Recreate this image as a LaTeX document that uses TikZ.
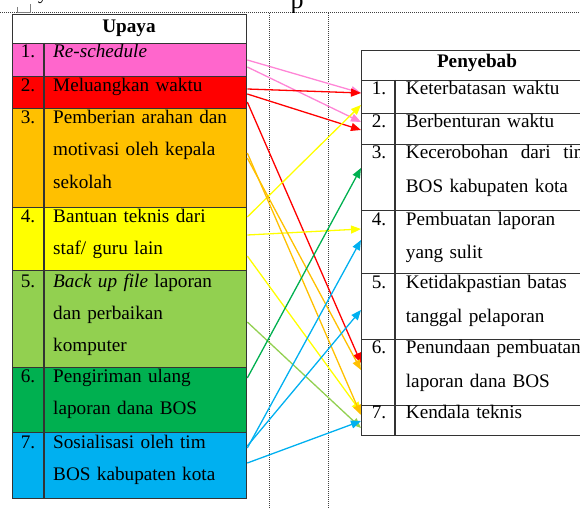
\documentclass[tikz,border=0pt]{standalone}
\usepackage{fontspec}
\setmainfont{Liberation Serif}
\usetikzlibrary{arrows.meta}

\definecolor{pinkU}{HTML}{FF66CC}
\definecolor{redU}{HTML}{FF0000}
\definecolor{orangeU}{HTML}{FFC000}
\definecolor{yellowU}{HTML}{FFFF00}
\definecolor{limeU}{HTML}{92D050}
\definecolor{greenU}{HTML}{00B050}
\definecolor{blueU}{HTML}{00B0F0}
\definecolor{lineC}{HTML}{333333}

\tikzset{
  cell/.style={draw=lineC, line width=1.3pt, anchor=north west, inner sep=0pt},
  txt/.style={anchor=base west, inner sep=0pt, text width=#1, align=left,
    font=\fontsize{19.2}{32}\selectfont},
  num/.style={anchor=base, inner sep=0pt, font=\fontsize{19.2}{32}\selectfont},
  head/.style={anchor=base, inner sep=0pt, font=\fontsize{19.2}{32}\selectfont\bfseries},
  link/.style={line width=1.3pt, -{Triangle[length=10pt,width=8pt]}},
  guide/.style={black!75, line width=1pt, densely dotted},
}

\begin{document}
\begin{tikzpicture}[x=1pt, y=-1pt]
    \useasboundingbox (0,0) rectangle (580,508);
    \clip (0,0) rectangle (580,508);

    % page guides
    \draw[guide] (0,13) -- (580,13);
    \draw[guide] (269,13) -- (269,508);
    \draw[guide] (328,13) -- (328,508);
    \draw[gray, line width=0.6pt] (17,7) -- (17,12) -- (30,12) -- (30,4);
    \begin{scope}
        \clip (0,0) rectangle (580,12.5);
        \node[num] (gy) at (43,0) {y};
        \node[num, font=\fontsize{26}{32}\selectfont] (gp) at (297,9) {p};
    \end{scope}

    % Upaya
    \node[cell, minimum width=234, minimum height=29] (hU) at (12,14) {};
    \node[cell, fill=pinkU, minimum width=234, minimum height=33] (u1) at (12,43) {};
    \node[cell, fill=redU, minimum width=234, minimum height=32] (u2) at (12,76) {};
    \node[cell, fill=orangeU, minimum width=234, minimum height=99] (u3) at (12,108) {};
    \node[cell, fill=yellowU, minimum width=234, minimum height=63] (u4) at (12,207) {};
    \node[cell, fill=limeU, minimum width=234, minimum height=97] (u5) at (12,270) {};
    \node[cell, fill=greenU, minimum width=234, minimum height=65] (u6) at (12,367) {};
    \node[cell, fill=blueU, minimum width=234, minimum height=66] (u7) at (12,432) {};
    \draw[lineC, line width=1.3pt] ([xshift=32pt]u1.north west) -- ([xshift=32pt]u7.south west);

    \node[head] (tU) at (129,33) {Upaya};
    \node[num] (nu1) at (28,58) {1.};
    \node[txt=190] (tu1) at (53,58) {\textit{Re-schedule}};
    \node[num] (nu2) at (28,92) {2.};
    \node[txt=190] (tu2) at (53,92) {Meluangkan waktu};
    \node[num] (nu3) at (28,124) {3.};
    \node[txt=190] (tu3) at (53,124) {Pemberian arahan dan\\motivasi oleh kepala\\sekolah};
    \node[num] (nu4) at (28,222) {4.};
    \node[txt=190] (tu4) at (53,222) {Bantuan teknis dari\\staf/ guru lain};
    \node[num] (nu5) at (28,287) {5.};
    \node[txt=190] (tu5) at (53,287) {\textit{Back up file} laporan\\dan perbaikan\\komputer};
    \node[num] (nu6) at (28,382) {6.};
    \node[txt=190] (tu6) at (53,382) {Pengiriman ulang\\laporan dana BOS};
    \node[num] (nu7) at (28,448) {7.};
    \node[txt=190] (tu7) at (53,448) {Sosialisasi oleh tim\\BOS kabupaten kota};

    % Penyebab
    \node[cell, minimum width=233, minimum height=30] (hP) at (361,50) {};
    \node[cell, minimum width=233, minimum height=33] (p1) at (361,80) {};
    \node[cell, minimum width=233, minimum height=31] (p2) at (361,113) {};
    \node[cell, minimum width=233, minimum height=66] (p3) at (361,144) {};
    \node[cell, minimum width=233, minimum height=63] (p4) at (361,210) {};
    \node[cell, minimum width=233, minimum height=66] (p5) at (361,273) {};
    \node[cell, minimum width=233, minimum height=66] (p6) at (361,339) {};
    \node[cell, minimum width=233, minimum height=30] (p7) at (361,405) {};
    \draw[lineC, line width=1.3pt] ([xshift=34pt]p1.north west) -- ([xshift=34pt]p7.south west);

    \node[head] (tP) at (477,68) {Penyebab};
    \node[num] (np1) at (379,95) {1.};
    \node[txt=183, font=\fontsize{19.2}{34}\selectfont] (tp1) at (405.7,95) {Keterbatasan waktu};
    \node[num] (np2) at (379,128) {2.};
    \node[txt=183, font=\fontsize{19.2}{34}\selectfont] (tp2) at (405.7,128) {Berbenturan waktu};
    \node[num] (np3) at (379,158) {3.};
    \node[txt=183, font=\fontsize{19.2}{34}\selectfont] (tp3) at (405.7,158) {Kecerobohan\hfill dari\hfill tim\\BOS kabupaten kota};
    \node[num] (np4) at (379,225) {4.};
    \node[txt=183, font=\fontsize{19.2}{33}\selectfont] (tp4) at (405.7,225) {Pembuatan laporan\\yang sulit};
    \node[num] (np5) at (379,288) {5.};
    \node[txt=183, font=\fontsize{19.2}{34}\selectfont] (tp5) at (405.7,288) {Ketidakpastian batas\\tanggal pelaporan};
    \node[num] (np6) at (379,353) {6.};
    \node[txt=183, font=\fontsize{19.2}{34}\selectfont] (tp6) at (405.7,353) {Penundaan pembuatan\\laporan dana BOS};
    \node[num] (np7) at (379,418) {7.};
    \node[txt=183, font=\fontsize{19.2}{34}\selectfont] (tp7) at (405.7,418) {Kendala teknis};

    % Upaya -> Penyebab
    \draw[link, pinkU!80] ([yshift=-17pt]u1.north east) -- ([yshift=-13pt]p1.north west);
    \draw[link, pinkU!80] ([yshift=-24pt]u1.north east) -- ([yshift=-9pt]p2.north west);
    \draw[link, redU] ([yshift=-13pt]u2.north east) -- ([yshift=-13pt]p1.north west);
    \draw[link, redU] ([yshift=-18pt]u2.north east) -- ([yshift=-17pt]p2.north west);
    \draw[link, redU] ([yshift=-26pt]u2.north east) -- ([yshift=-24pt]p6.north west);
    \draw[link, yellowU] ([yshift=-10pt]u4.north east) -- ([yshift=-25pt]p1.north west);
    \draw[link, yellowU] ([yshift=-28pt]u4.north east) -- ([yshift=-19pt]p4.north west);
    \draw[link, yellowU] ([yshift=-49pt]u4.north east) -- ([yshift=-7pt]p7.north west);
    \draw[link, orangeU] ([yshift=-45pt]u3.north east) -- ([yshift=-10pt]p7.north west);
    \draw[link, orangeU] ([yshift=-50pt]u3.north east) -- ([yshift=-31pt]p6.north west);
    \draw[link, limeU] ([yshift=-52pt]u5.north east) -- ([yshift=-23pt]p7.north west);
    \draw[link, greenU] ([yshift=-11pt]u6.north east) -- ([yshift=-24pt]p3.north west);
    \draw[link, blueU] ([yshift=-16pt]u7.north east) -- ([yshift=-30pt]p4.north west);
    \draw[link, blueU] ([yshift=-14pt]u7.north east) -- ([yshift=-37pt]p5.north west);
    \draw[link, blueU] ([yshift=-31pt]u7.north east) -- ([yshift=-16pt]p7.north west);
\end{tikzpicture}
\end{document}
